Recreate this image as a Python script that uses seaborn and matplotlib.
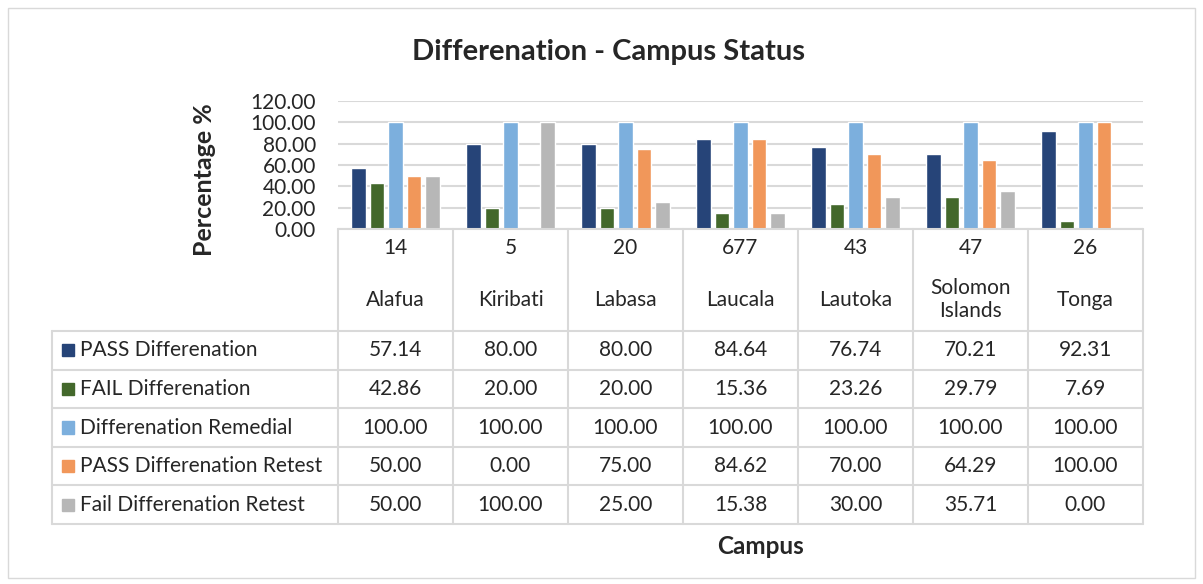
# Differenation - Campus Status : grouped bars with Excel style data table
import pandas as pd
import matplotlib
matplotlib.use("Agg")
import matplotlib.pyplot as plt
import seaborn as sns

sns.set_style("white")
plt.rcParams['font.family'] = ['Lato', 'DejaVu Sans']

# ===============================
# Data
# ===============================
campuses = ["Alafua", "Kiribati", "Labasa", "Laucala", "Lautoka", "Solomon\nIslands", "Tonga"]
counts = [14, 5, 20, 677, 43, 47, 26]
series = ["PASS Differenation", "FAIL Differenation", "Differenation Remedial",
          "PASS Differenation Retest", "Fail Differenation Retest"]
pass_diff = [57.14, 80.00, 80.00, 84.64, 76.74, 70.21, 92.31]
fail_diff = [42.86, 20.00, 20.00, 15.36, 23.26, 29.79, 7.69]
remedial = [100.00, 100.00, 100.00, 100.00, 100.00, 100.00, 100.00]
pass_retest = [50.00, 0.00, 75.00, 84.62, 70.00, 64.29, 100.00]
fail_retest = [50.00, 100.00, 25.00, 15.38, 30.00, 35.71, 0.00]
colors = ["#264478", "#43682B", "#7CAFDD", "#F1975A", "#B7B7B7"]

values = [pass_diff, fail_diff, remedial, pass_retest, fail_retest]
rows = []
for s, vals in zip(series, values):
    for c, v in zip(campuses, vals):
        rows.append({"campus": c, "series": s, "value": v})
df = pd.DataFrame(rows)

# ===============================
# Layout (pixel helpers)
# ===============================
W, H = 1203, 584
fig = plt.figure(figsize=(W / 100, H / 100), dpi=100)
grid_col = "#D9D9D9"
fs = 15


def fx(px):
    return px / W


def fy(py):
    return 1 - py / H


# outer frame
fig.patches.append(plt.Rectangle((fx(8), fy(578)), fx(1195) - fx(8), fy(8) - fy(578),
                                 transform=fig.transFigure, fill=False,
                                 edgecolor=grid_col, lw=1))

# ===============================
# Bars
# ===============================
ax = fig.add_axes([fx(338), fy(229), fx(1143) - fx(338), fy(101) - fy(229)])
sns.barplot(data=df, x="campus", y="value", hue="series", order=campuses,
            hue_order=series, palette=colors, width=0.8, gap=0.2,
            saturation=1, legend=False, ax=ax)
ax.set_ylim(0, 120)
ax.set_yticks(range(0, 121, 20))
ax.set_yticklabels([f"{t:.2f}" for t in range(0, 121, 20)], fontsize=fs)
ax.tick_params(axis="y", length=0, pad=16)
ax.set_xticks([])
ax.set_xlabel("")
ax.set_ylabel("")
ax.yaxis.grid(True, color=grid_col, lw=1.5)
ax.set_axisbelow(True)
for sp in ax.spines.values():
    sp.set_visible(False)

# ===============================
# Data table
# ===============================
n = len(campuses)
cat_px = (1143 - 338) / n
lw = (338 - 52) / cat_px
head = 102 / ((524 - 331) / 5)
tax = fig.add_axes([fx(52), fy(524), fx(1143) - fx(52), fy(229) - fy(524)])
tax.set_xlim(-0.5 - lw, n - 0.5)
tax.set_ylim(head + 5, 0)
tax.axis("off")

line_kw = dict(color=grid_col, lw=1.5, clip_on=False)
for k in range(n + 1):
    tax.plot([k - 0.5, k - 0.5], [0, head + 5], **line_kw)
tax.plot([-0.5 - lw, -0.5 - lw], [head, head + 5], **line_kw)
tax.plot([-0.5, n - 0.5], [0, 0], **line_kw)
for r in range(6):
    tax.plot([-0.5 - lw, n - 0.5], [head + r, head + r], **line_kw)

for i, (c, cnt) in enumerate(zip(campuses, counts)):
    tax.text(i, 0.49, str(cnt), ha="center", va="center", fontsize=fs)
    tax.text(i, 1.83, c, ha="center", va="center", fontsize=fs, linespacing=1.2)

x0 = -0.5 - lw
for r, (s, vals, col) in enumerate(zip(series, values, colors)):
    yc = head + r + 0.5
    tax.add_patch(plt.Rectangle((x0 + 10 / cat_px, yc - 0.16), 12 / cat_px, 0.32,
                                color=col, clip_on=False))
    tax.text(x0 + 28 / cat_px, yc, s, ha="left", va="center", fontsize=fs)
    for i, v in enumerate(vals):
        tax.text(i, yc, f"{v:.2f}", ha="center", va="center", fontsize=fs)

# ===============================
# Titles
# ===============================
fig.text(fx(608), fy(52), "Differenation - Campus Status", ha="center", va="center",
         fontsize=21, fontweight="bold")
fig.text(fx(205), fy(180), "Percentage %", ha="center", va="center", rotation=90,
         fontsize=18, fontweight="bold")
fig.text(fx(760), fy(547), "Campus", ha="center", va="center",
         fontsize=17.5, fontweight="bold")

fig.savefig("out.png", dpi=100)
